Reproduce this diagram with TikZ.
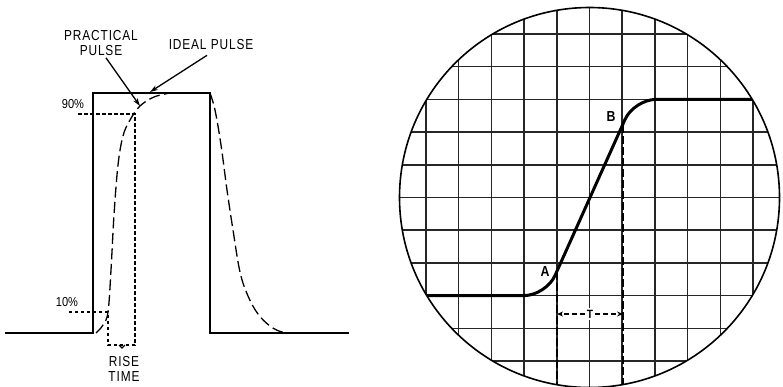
\documentclass[tikz,border=0pt]{standalone}
\usepackage{fontspec}
\setmainfont{Liberation Sans}
\newfontfamily\lblfont[FakeStretch=0.82,LetterSpace=6]{Liberation Sans}
\newfontfamily\ptfont[FakeStretch=0.85]{Liberation Sans}
\usetikzlibrary{arrows.meta}
\begin{document}
\begin{tikzpicture}[x=1pt,y=-1pt,
  solidline/.style={line width=1.6pt,line join=miter},
  pulsedash/.style={line width=1.3pt,dash pattern=on 11pt off 4.5pt},
  guidedash/.style={line width=1.3pt,dash pattern=on 3.5pt off 2.5pt},
  lbl/.style={inner sep=0pt,font=\lblfont\fontsize{14.5}{15}\selectfont,align=center},
  pct/.style={inner sep=0pt,font=\ptfont\fontsize{13}{13}\selectfont},
  ptr/.style={line width=1.3pt,-{Stealth[length=8pt,width=5pt]}},
  gridline/.style={line width=1.5pt,black!85},
  trace/.style={line width=3pt,rounded corners=22pt,line cap=round},
  tdash/.style={line width=2pt,dash pattern=on 8pt off 3pt},
  tarrow/.style={line width=1.3pt,dash pattern=on 5pt off 3pt,-{Stealth[length=6pt,width=5pt]}},
  ptlabel/.style={inner sep=0pt,font=\ptfont\bfseries\fontsize{14.5}{14}\selectfont}]
\useasboundingbox (0,0) rectangle (783,386);
% ---------------- left panel ----------------
% ideal pulse
\draw[solidline] (5,333) -- (93,333) -- (93,93) -- (210,93) -- (210,333) -- (349,333);
% practical pulse (dashed)
\draw[pulsedash] plot[smooth,tension=0.6] coordinates {(96,333) (103,325) (108,312) (111,270) (114,215) (118,165) (123,136) (130,120) (140,106) (154,97) (170,93)};
\draw[pulsedash] plot[smooth,tension=0.6] coordinates {(210,93) (215,110) (221,145) (227,190) (233,230) (240,272) (248,296) (258,314) (270,326) (282,332) (295,333)};
% 90% and 10% guides
\draw[guidedash] (78,114) -- (135,114) -- (135,345) -- (108,345) -- (108,312) -- (67,312);
\draw[line width=1.1pt] (119,345) -- (122,348) -- (125,345);
\node[pct] (p90) at (73,104) {90\%};
\node[pct] (p10) at (67,302) {10\%};
\node[lbl] (rise) at (124,369) {RISE\\TIME};
% labels
\node[lbl] (prac) at (101,43) {PRACTICAL\\PULSE};
\node[lbl] (ideal) at (211,45) {IDEAL PULSE};
\coordinate (pracTip) at (140,106);
\coordinate (idealTip) at (150,92);
\draw[ptr] (prac.south) ++(5,2) -- (pracTip);
\draw[ptr] (ideal.south) ++(-4,5) -- (idealTip);
% ---------------- right panel ----------------
\coordinate (C) at (589.5,197.5);
\begin{scope}
  \clip (C) circle (190);
  \foreach \k in {-5,...,5} {
    \draw[gridline] (589.5+32.7*\k,0) -- (589.5+32.7*\k,400);
    \draw[gridline] (390,197.5+32.7*\k) -- (790,197.5+32.7*\k);
  }
  % dashed verticals from A and B
  \coordinate (A) at (557,272);
  \coordinate (B) at (623,125);
  \draw[tdash] (A) -- (557,400);
  \draw[tdash] (B) -- (623,400);
  % trace
  \draw[trace] (420,295.6) -- (546,295.6) -- (634,99.4) -- (760,99.4);
\end{scope}
\draw[line width=1.6pt] (C) circle (190);
\node[ptlabel] (Alab) at (545,272) {A};
\node[ptlabel] (Blab) at (611,117) {B};
\node[fill=white,inner sep=1.5pt,font=\ptfont\bfseries\fontsize{12}{12}\selectfont] (T) at (590,314) {T};
\coordinate (TL) at (557,314);
\coordinate (TR) at (623,314);
\draw[tarrow] (T.west) -- (TL);
\draw[tarrow] (T.east) -- (TR);
\end{tikzpicture}
\end{document}
